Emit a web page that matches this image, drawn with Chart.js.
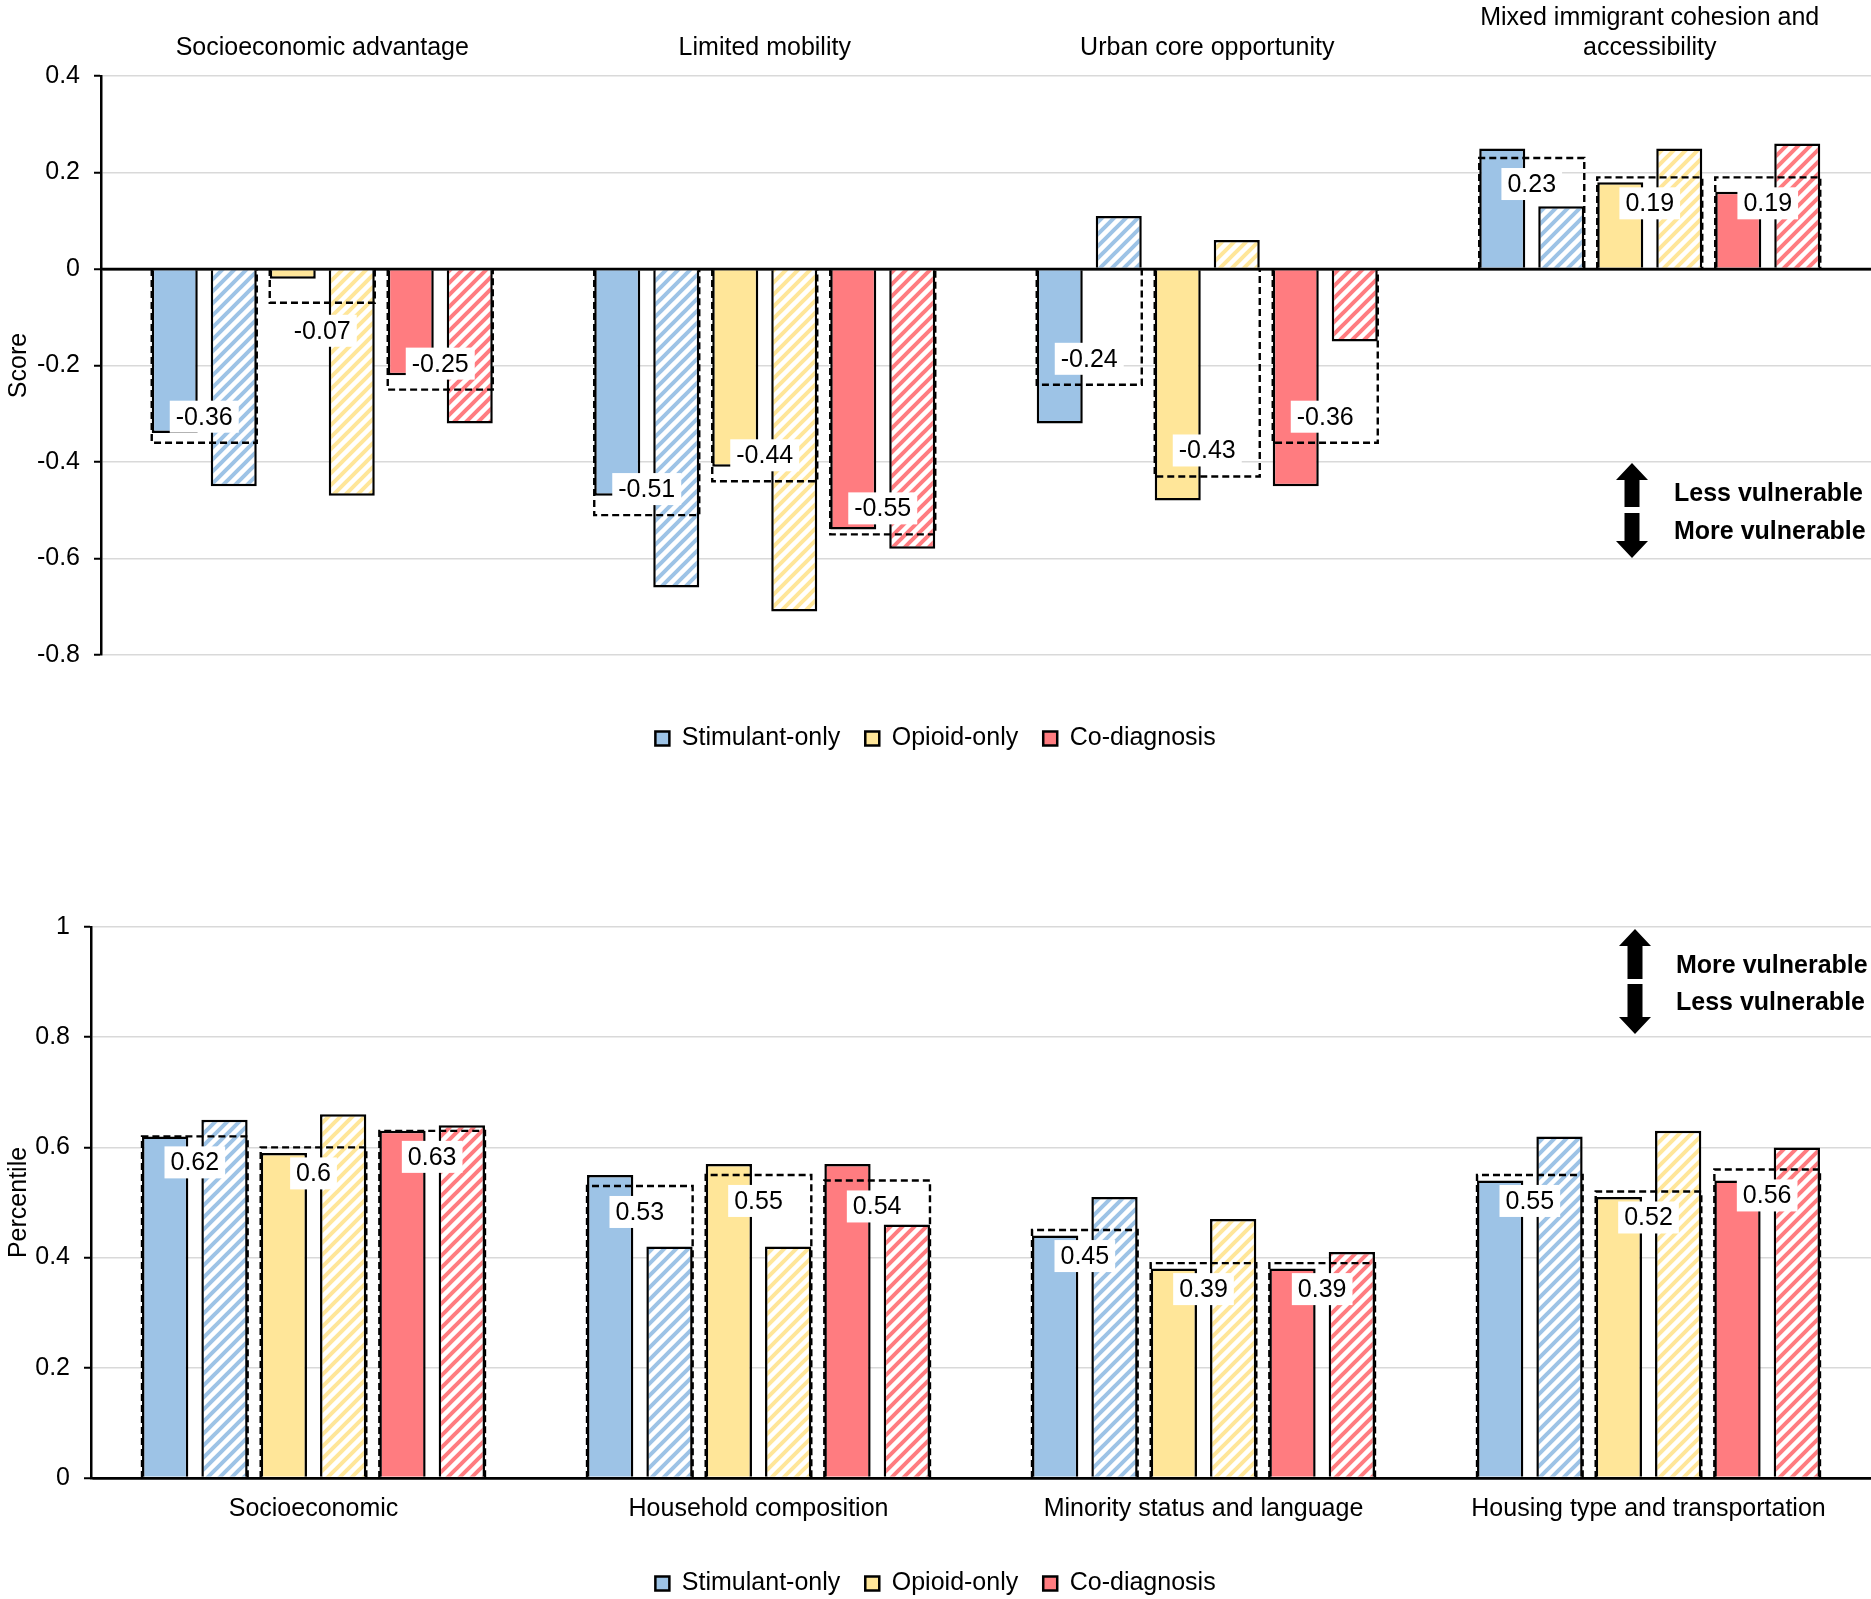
<!DOCTYPE html>
<html>
<head>
<meta charset="utf-8">
<script src="https://cdn.jsdelivr.net/npm/chart.js@4.4.1/dist/chart.umd.min.js"></script>
<style>
  html, body { margin: 0; padding: 0; background: #fff; overflow: hidden; }
  #top { position: absolute; left: 0; top: 0; width: 1871px; height: 761px; }
  #bottom { position: absolute; left: 0; top: 761px; width: 1871px; height: 845px; }
</style>
</head>
<body>
<div id="top"><canvas id="scoreChart"></canvas></div>
<div id="bottom"><canvas id="pctChart"></canvas></div>
<script>
// SCORE PANEL (top)
const scoreCategories = [
  "Socioeconomic advantage",
  "Limited mobility",
  "Urban core opportunity",
  ["Mixed immigrant cohesion and", "accessibility"],
];
const scoreStimSolid = [-0.34, -0.47, -0.32, 0.25];
const scoreStimHatch = [-0.45, -0.66, 0.11, 0.13];
const scoreOpioidSolid = [-0.02, -0.41, -0.48, 0.18];
const scoreOpioidHatch = [-0.47, -0.71, 0.06, 0.25];
const scoreCoSolid = [-0.22, -0.54, -0.45, 0.16];
const scoreCoHatch = [-0.32, -0.58, -0.15, 0.26];
const scoreStimAvg = [-0.36, -0.51, -0.24, 0.23];
const scoreOpioidAvg = [-0.07, -0.44, -0.43, 0.19];
const scoreCoAvg = [-0.25, -0.55, -0.36, 0.19];
const scoreTicks = [0.4, 0.2, 0, -0.2, -0.4, -0.6, -0.8];

// PERCENTILE PANEL (bottom)
const pctCategories = [
  "Socioeconomic",
  "Household composition",
  "Minority status and language",
  "Housing type and transportation",
];
const pctStimSolid = [0.62, 0.55, 0.44, 0.54];
const pctStimHatch = [0.65, 0.42, 0.51, 0.62];
const pctOpioidSolid = [0.59, 0.57, 0.38, 0.51];
const pctOpioidHatch = [0.66, 0.42, 0.47, 0.63];
const pctCoSolid = [0.63, 0.57, 0.38, 0.54];
const pctCoHatch = [0.64, 0.46, 0.41, 0.6];
const pctStimAvg = [0.62, 0.53, 0.45, 0.55];
const pctOpioidAvg = [0.6, 0.55, 0.39, 0.52];
const pctCoAvg = [0.63, 0.54, 0.39, 0.56];
const pctTicks = [1, 0.8, 0.6, 0.4, 0.2, 0];

const groupNames = ["Stimulant-only", "Opioid-only", "Co-diagnosis"];
const BLUE = "#9dc3e6";
const YELLOW = "#ffe699";
const RED = "#ff7c80";

const FONT = "'Liberation Sans', Arial, sans-serif";
Chart.defaults.font.family = FONT;
Chart.defaults.font.size = 25;
Chart.defaults.color = "#000";

// diagonal "/" stripes on white
function hatch(color) {
  const n = 12;
  const c = document.createElement("canvas");
  c.width = c.height = n;
  const g = c.getContext("2d");
  g.fillStyle = "#fff";
  g.fillRect(0, 0, n, n);
  g.strokeStyle = color;
  g.lineWidth = 4;
  g.beginPath();
  g.moveTo(-2, n + 2); g.lineTo(n + 2, -2);
  g.moveTo(-2, 2); g.lineTo(2, -2);
  g.moveTo(n - 2, n + 2); g.lineTo(n + 2, n - 2);
  g.stroke();
  return g.createPattern(c, "repeat");
}

function bars(label, data, fill) {
  return {
    label, data,
    backgroundColor: fill,
    borderColor: "#000",
    borderWidth: 2.5,
    categoryPercentage: 0.8,
    barPercentage: 0.78,
  };
}

// dashed average boxes + white value labels
const avgBoxes = {
  id: "avgBoxes",
  afterDatasetsDraw(chart, args, opts) {
    const ctx = chart.ctx;
    const ys = chart.scales.y;
    const y0 = ys.getPixelForValue(0);

    // zero line on top of the bars
    if (opts.zeroLine) {
      ctx.save();
      ctx.strokeStyle = "#000";
      ctx.lineWidth = 2.5;
      ctx.beginPath();
      ctx.moveTo(chart.chartArea.left, y0);
      ctx.lineTo(chart.chartArea.right, y0);
      ctx.stroke();
      ctx.restore();
    }

    const labels = [];
    opts.values.forEach((avg, p) => {
      const a = chart.getDatasetMeta(p * 2).data;
      const b = chart.getDatasetMeta(p * 2 + 1).data;
      avg.forEach((v, i) => {
        const left = a[i].x - a[i].width / 2;
        const right = b[i].x + b[i].width / 2;
        const y1 = ys.getPixelForValue(v);
        ctx.save();
        ctx.strokeStyle = "#000";
        ctx.lineWidth = 2.4;
        ctx.setLineDash([7, 4]);
        ctx.beginPath();
        ctx.moveTo(left, y0);
        ctx.lineTo(left, y1);
        ctx.lineTo(right, y1);
        ctx.lineTo(right, y0);
        ctx.stroke();
        ctx.restore();

        const inside = Math.abs(y1 - y0) > 55;
        const dir = v < 0 ? -1 : 1;
        const cy = inside ? y1 + dir * 26 : y1 - dir * 28;
        labels.push({ x: (left + right) / 2, y: cy, text: String(v) });
      });
    });

    ctx.save();
    ctx.font = "25px " + FONT;
    ctx.textAlign = "center";
    ctx.textBaseline = "middle";
    labels.forEach((l) => {
      const w = ctx.measureText(l.text).width + 12;
      ctx.fillStyle = "#fff";
      ctx.fillRect(l.x - w / 2, l.y - 16, w, 32);
      ctx.fillStyle = "#000";
      ctx.fillText(l.text, l.x, l.y + 1);
    });
    ctx.restore();
  },
};

// up/down arrows with "vulnerable" notes
function arrowShape(ctx, cx, y1, y2, up) {
  const shaft = 7.5, head = 16, hh = 17;
  ctx.beginPath();
  if (up) {
    ctx.moveTo(cx, y1);
    ctx.lineTo(cx + head, y1 + hh);
    ctx.lineTo(cx + shaft, y1 + hh);
    ctx.lineTo(cx + shaft, y2);
    ctx.lineTo(cx - shaft, y2);
    ctx.lineTo(cx - shaft, y1 + hh);
    ctx.lineTo(cx - head, y1 + hh);
  } else {
    ctx.moveTo(cx, y2);
    ctx.lineTo(cx + head, y2 - hh);
    ctx.lineTo(cx + shaft, y2 - hh);
    ctx.lineTo(cx + shaft, y1);
    ctx.lineTo(cx - shaft, y1);
    ctx.lineTo(cx - shaft, y2 - hh);
    ctx.lineTo(cx - head, y2 - hh);
  }
  ctx.closePath();
  ctx.fill();
}

const vulnArrows = {
  id: "vulnArrows",
  afterDraw(chart, args, o) {
    const ctx = chart.ctx;
    const t = chart.chartArea.top;
    const cx = chart.chartArea.right + o.dx;
    ctx.save();
    ctx.fillStyle = "#000";
    arrowShape(ctx, cx, t + o.up[0], t + o.up[1], true);
    arrowShape(ctx, cx, t + o.down[0], t + o.down[1], false);
    ctx.font = "bold 25px " + FONT;
    ctx.textAlign = "left";
    ctx.textBaseline = "middle";
    ctx.fillText(o.upperText, cx + o.textDx, t + o.upperY);
    ctx.fillText(o.lowerText, cx + o.textDx, t + o.lowerY);
    ctx.restore();
  },
};

function fmtTick(v) {
  return String(Math.round(v * 10) / 10);
}

function makeChart(id, cfg) {
  const datasets = [
    bars(groupNames[0], cfg.series[0], BLUE),
    bars(groupNames[0] + " (hatched)", cfg.series[1], hatch(BLUE)),
    bars(groupNames[1], cfg.series[2], YELLOW),
    bars(groupNames[1] + " (hatched)", cfg.series[3], hatch(YELLOW)),
    bars(groupNames[2], cfg.series[4], RED),
    bars(groupNames[2] + " (hatched)", cfg.series[5], hatch(RED)),
  ];
  return new Chart(document.getElementById(id), {
    type: "bar",
    data: { labels: cfg.categories, datasets },
    plugins: [avgBoxes, vulnArrows],
    options: {
      animation: false,
      responsive: true,
      maintainAspectRatio: false,
      devicePixelRatio: 1,
      layout: { padding: { top: cfg.padTop, left: 0, right: 0, bottom: 0 } },
      scales: {
        x: {
          position: cfg.xPos,
          grid: { display: false, drawTicks: false },
          border: cfg.xBorder,
          ticks: { padding: cfg.xPad, color: "#000", font: { size: 25 }, maxRotation: 0, autoSkip: false },
          afterFit: (s) => { s.height = cfg.xHeight; },
        },
        y: {
          min: cfg.ticks[cfg.ticks.length - 1],
          max: cfg.ticks[0],
          afterBuildTicks: (s) => { s.ticks = cfg.ticks.map((v) => ({ value: v })); },
          afterFit: (s) => { s.width = cfg.yWidth; },
          title: { display: true, text: cfg.yTitle, font: { size: 25 }, color: "#000" },
          ticks: { padding: 14, callback: fmtTick, color: "#000", font: { size: 25 } },
          grid: {
            color: (c) => (c.tick && c.tick.value === 0 ? "#000" : "#d9d9d9"),
            lineWidth: (c) => (c.tick && c.tick.value === 0 ? 2.5 : 1.5),
            tickColor: "#000",
            tickLength: 7,
            tickWidth: 2,
          },
          border: { display: true, color: "#000", width: 2.5 },
        },
      },
      plugins: {
        tooltip: { enabled: false },
        legend: {
          position: "bottom",
          title: { display: true, text: "", font: { size: 1, lineHeight: 1 }, padding: { top: cfg.legendGap, bottom: 0 } },
          labels: {
            filter: (item) => item.datasetIndex % 2 === 0,
            boxWidth: 14,
            boxHeight: 14,
            padding: 25,
            color: "#000",
            font: { size: 25 },
          },
        },
        avgBoxes: { values: cfg.avgs, zeroLine: cfg.zeroLine },
        vulnArrows: cfg.arrows,
      },
    },
  });
}

makeChart("scoreChart", {
  categories: scoreCategories,
  series: [scoreStimSolid, scoreStimHatch, scoreOpioidSolid, scoreOpioidHatch, scoreCoSolid, scoreCoHatch],
  avgs: [scoreStimAvg, scoreOpioidAvg, scoreCoAvg],
  ticks: scoreTicks,
  yTitle: "Score",
  xPos: "top",
  xBorder: { display: false },
  xPad: 13,
  xHeight: 76,
  yWidth: 101,
  padTop: 0,
  legendGap: 45,
  zeroLine: true,
  arrows: {
    dx: -239, up: [387, 431], down: [437, 482], textDx: 42,
    upperText: "Less vulnerable", upperY: 418,
    lowerText: "More vulnerable", lowerY: 456,
  },
});

makeChart("pctChart", {
  categories: pctCategories,
  series: [pctStimSolid, pctStimHatch, pctOpioidSolid, pctOpioidHatch, pctCoSolid, pctCoHatch],
  avgs: [pctStimAvg, pctOpioidAvg, pctCoAvg],
  ticks: pctTicks,
  yTitle: "Percentile",
  xPos: "bottom",
  xBorder: { display: true, color: "#000", width: 2.5, z: 1 },
  xPad: 16,
  xHeight: 45,
  yWidth: 91,
  padTop: 166,
  legendGap: 22,
  zeroLine: false,
  arrows: {
    dx: -236, up: [2, 52], down: [57, 107], textDx: 41,
    upperText: "More vulnerable", upperY: 39,
    lowerText: "Less vulnerable", lowerY: 76,
  },
});
</script>
</body>
</html>
